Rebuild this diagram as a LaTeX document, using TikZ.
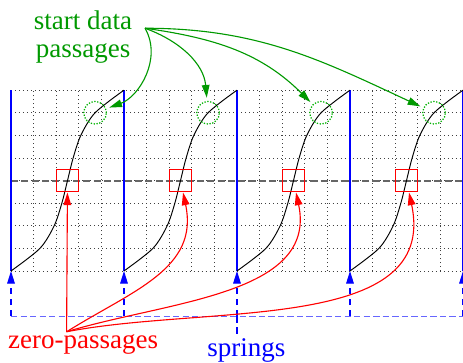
\documentclass[tikz,border=0pt]{standalone}
\usepackage{fontspec}
\setmainfont{Liberation Serif}
\newfontfamily\labelfont{Liberation Serif}
\usetikzlibrary{arrows.meta,positioning}

\begin{document}
\begin{tikzpicture}[
    x=0.5cm, y=0.5cm,
    tip/.style={-{Triangle[length=8pt,width=4.8pt]}},
    gridline/.style={dotted, black!75, line width=0.5pt},
    wave/.style={black, line width=0.6pt},
    spring/.style={blue, line width=0.8pt, dash pattern=on 4pt off 3pt},
    zerobox/.style={draw=red, line width=0.8pt, minimum size=0.5cm, inner sep=0pt},
    startmark/.style={circle, draw=green!70!black, densely dotted, line width=0.8pt, minimum size=0.5cm, inner sep=0pt},
    gline/.style={tip, green!60!black, line width=0.7pt, shorten >=2pt},
    rline/.style={tip, red, line width=0.7pt},
    lbl/.style={font=\labelfont\fontsize{17}{18}\selectfont, align=center, inner sep=1pt}
]
\useasboundingbox (-0.487,-4.03) rectangle (20,11.99);

% dotted grid, dashed zero line
\foreach \x in {0,...,20} \draw[gridline] (\x,0) -- (\x,8);
\foreach \y in {0,...,8} \draw[gridline] (0,\y) -- (20,\y);
\draw[black!60, line width=1.2pt, dash pattern=on 4.5pt off 2pt] (0,4) -- (20,4);

% springs
\foreach \k [count=\i] in {0,5,10,15,20} {
    \coordinate (f\i) at (\k,0);
    \coordinate (b\i) at (\k,-2);
    \draw[blue, line width=0.8pt] (f\i) -- ++(0,8);
    \draw[spring, tip] (b\i) -- (f\i);
}
\draw[spring, blue!60, dash pattern=on 4pt off 2pt] (b1) -- (b5);

% one wave per period
\foreach \k [count=\i] in {0,5,10,15} {
    \draw[wave, shift={(\k,0)}] plot[smooth] coordinates {(0,0) (1.28,1) (1.91,2) (2.25,3) (2.5,4) (2.75,5) (3.09,6) (3.72,7) (5,8)};
    \node[zerobox] (z\i) at (\k+2.5,4) {};
    \node[startmark] (s\i) at (\k+3.72,7) {};
}

% labels
\coordinate (gsrc) at (5.93,10.74);
\node[lbl, text=green!60!black] (start) at (3.19,10.35) {start data\\passages};
\coordinate (rsrc) at (2.46,-2.69);
\node[lbl, text=red, anchor=base] (zero) at (3.19,-3.42) {zero-passages};
\node[lbl, text=blue, anchor=base] (springs) at (10.42,-3.79) {springs};
\draw[spring] (b3) -- (b3 |- springs.north);

\draw[gline] (gsrc) to[out=-60,in=20] (s1);
\draw[gline] (gsrc) to[out=-20,in=95] (s2);
\draw[gline] (gsrc) to[out=-8,in=135] (s3);
\draw[gline] (gsrc) to[out=0,in=155] (s4);

\draw[rline] (rsrc) -- (z1);
\draw[rline] (rsrc) to[out=32,in=-78,looseness=1.1] (z2);
\draw[rline] (rsrc) to[out=17,in=-78] (z3);
\draw[rline] (rsrc) to[out=11,in=-78] (z4);
\end{tikzpicture}
\end{document}
